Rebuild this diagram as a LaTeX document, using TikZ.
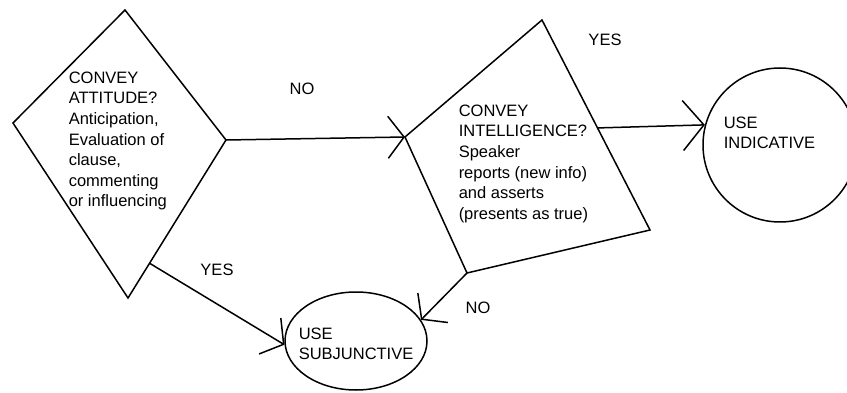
\documentclass[tikz,border=0pt]{standalone}
\usepackage{fontspec}
\setmainfont{Liberation Sans}
\usetikzlibrary{arrows.meta, calc, shapes.geometric}

\begin{document}
\begin{tikzpicture}[
  x=1pt, y=-1pt,
  line width=1.5pt, line join=miter,
  font=\fontsize{16.5}{20.6}\selectfont,
  txt/.style={anchor=north west, inner sep=0pt, align=left},
  lbl/.style={inner sep=0pt},
  endbox/.style={draw, inner sep=0pt},
  arr/.style={-{Straight Barb[length=16pt, width=42pt, line width=1.5pt]}},
  bigarr/.style={-{Straight Barb[length=21pt, width=50pt, line width=1.5pt]}},
]
  \useasboundingbox (0,0) rectangle (847,393);
  \clip (0,0) rectangle (847,393);

  % attitude decision
  \coordinate (d1t) at (125,10);
  \coordinate (d1l) at (13,123);
  \coordinate (d1r) at (226,140);
  \coordinate (d1b) at (128,298);
  \draw (d1t) -- (d1r) -- (d1b) -- (d1l) -- cycle;
  \node[txt] (att) at (68,71) {CONVEY\\ATTITUDE?\\Anticipation,\\Evaluation of\\clause,\\commenting\\or influencing};

  % intelligence decision
  \coordinate (d2t) at (542,20);
  \coordinate (d2l) at (405,137);
  \coordinate (d2r) at (650,230);
  \coordinate (d2b) at (467,273);
  \draw (d2t) -- (d2r) -- (d2b) -- (d2l) -- cycle;
  \node[txt] (int) at (458,104) {CONVEY\\INTELLIGENCE?\\Speaker\\reports (new info)\\and asserts\\(presents as true)};

  % outcomes
  \node[endbox, circle, minimum size=154pt] (ind) at (780,145) {};
  \node[txt] (indt) at (723,116) {USE\\INDICATIVE};
  \node[endbox, ellipse, minimum width=142pt, minimum height=98pt] (subj) at (356,341) {};
  \node[txt] (subjt) at (298,327) {USE\\SUBJUNCTIVE};

  % connectors
  \coordinate (d1e) at ($(d1r)!0.78!(d1b)$);
  \coordinate (d2e) at ($(d2t)!0.514!(d2r)$);
  \draw[arr] (d1r) -- (d2l);
  \draw[bigarr] (d2e) -- (ind.165);
  \draw[arr] (d1e) -- (subj.183);
  \draw[arr] (d2b) -- (subj.18);

  % labels
  \node[lbl] (no1) at (302,89) {NO};
  \node[lbl] (yes1) at (605,40) {YES};
  \node[lbl] (yes2) at (217,270) {YES};
  \node[lbl] (no2) at (478,308) {NO};
\end{tikzpicture}
\end{document}
